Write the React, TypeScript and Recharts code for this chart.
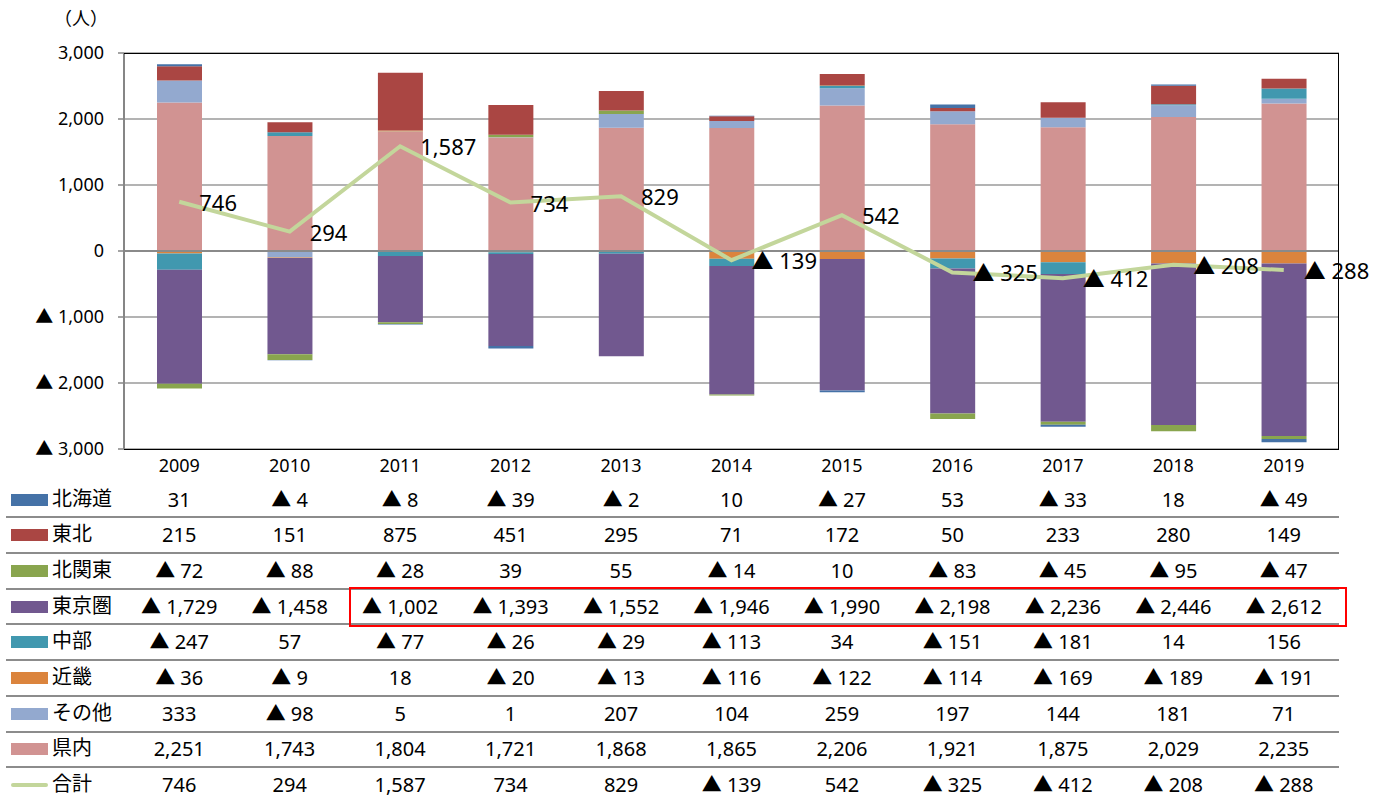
import React from 'react';
import {
  ComposedChart,
  Bar,
  Line,
  XAxis,
  YAxis,
  CartesianGrid,
  ReferenceLine,
  LabelList,
} from 'recharts';

const YEARS = ['2009', '2010', '2011', '2012', '2013', '2014', '2015', '2016', '2017', '2018', '2019'];
const HOKKAIDO = [31, -4, -8, -39, -2, 10, -27, 53, -33, 18, -49];
const TOHOKU = [215, 151, 875, 451, 295, 71, 172, 50, 233, 280, 149];
const KITAKANTO = [-72, -88, -28, 39, 55, -14, 10, -83, -45, -95, -47];
const TOKYO = [-1729, -1458, -1002, -1393, -1552, -1946, -1990, -2198, -2236, -2446, -2612];
const CHUBU = [-247, 57, -77, -26, -29, -113, 34, -151, -181, 14, 156];
const KINKI = [-36, -9, 18, -20, -13, -116, -122, -114, -169, -189, -191];
const OTHER = [333, -98, 5, 1, 207, 104, 259, 197, 144, 181, 71];
const KENNAI = [2251, 1743, 1804, 1721, 1868, 1865, 2206, 1921, 1875, 2029, 2235];
const TOTAL = [746, 294, 1587, 734, 829, -139, 542, -325, -412, -208, -288];
const Y_TICKS = [-3000, -2000, -1000, 0, 1000, 2000, 3000];

// stacking order, bottom (or nearest zero) first
const STACK = [
  { key: 'kennai', name: '県内', color: '#D19392', values: KENNAI },
  { key: 'other', name: 'その他', color: '#93A9CF', values: OTHER },
  { key: 'kinki', name: '近畿', color: '#DB843D', values: KINKI },
  { key: 'chubu', name: '中部', color: '#4198AF', values: CHUBU },
  { key: 'tokyo', name: '東京圏', color: '#71588F', values: TOKYO },
  { key: 'kitakanto', name: '北関東', color: '#89A54E', values: KITAKANTO },
  { key: 'tohoku', name: '東北', color: '#AA4643', values: TOHOKU },
  { key: 'hokkaido', name: '北海道', color: '#4572A7', values: HOKKAIDO },
];
const LINE_COLOR = '#C3D69B';

const data = YEARS.map((year, i) => {
  const row: any = { year, total: TOTAL[i] };
  STACK.forEach((s) => (row[s.key] = s.values[i]));
  return row;
});

const fmt = (v: number) =>
  v < 0 ? `▲ ${Math.abs(v).toLocaleString('en-US')}` : v.toLocaleString('en-US');

const FONT = "'Noto Sans', 'Noto Sans CJK JP', sans-serif";
const W = 1390;
const H = 798;
const PLOT_LEFT = 124;
const PLOT_RIGHT = 1339;
const PLOT_TOP = 53;
const PLOT_BOTTOM = 449;
const COL_W = (PLOT_RIGHT - PLOT_LEFT) / YEARS.length;
const ROW_Y0 = 499.5;
const ROW_H = 35.7;

const TotalLabel = (props: any) => {
  const { x, y, value } = props;
  return (
    <text x={x + 20} y={y} dominantBaseline="central" fontSize={22} fill="#000" fontFamily={FONT}>
      {fmt(value)}
    </text>
  );
};

const TABLE_ROWS = [
  ...[...STACK].reverse().map((s) => ({ name: s.name, color: s.color, values: s.values, line: false })),
  { name: '合計', color: LINE_COLOR, values: TOTAL, line: true },
];

export default function App() {
  return (
    <div
      style={{
        position: 'absolute',
        left: 0,
        top: 0,
        width: W,
        height: H,
        background: '#fff',
        fontFamily: FONT,
        color: '#000',
      }}
    >
      <div style={{ position: 'absolute', left: 54, top: 6, fontSize: 18, lineHeight: '24px' }}>（人）</div>

      <ComposedChart
        width={W}
        height={H}
        data={data}
        stackOffset="sign"
        margin={{ top: PLOT_TOP, right: W - PLOT_RIGHT, left: 0, bottom: 0 }}
      >
        <CartesianGrid vertical={false} stroke="#9a9a9a" strokeWidth={1.5} />
        <XAxis
          dataKey="year"
          height={H - PLOT_BOTTOM}
          axisLine={false}
          tickLine={false}
          tickSize={0}
          tickMargin={10}
          tick={{ fill: '#000', fontSize: 18, fontFamily: FONT }}
          interval={0}
        />
        <YAxis
          width={PLOT_LEFT}
          domain={[-3000, 3000]}
          ticks={Y_TICKS}
          interval={0}
          axisLine={{ stroke: '#868686', strokeWidth: 2 }}
          tickLine={{ stroke: '#868686', strokeWidth: 1.5 }}
          tickSize={6}
          tickMargin={14}
          tickFormatter={fmt}
          tick={{ fill: '#000', fontSize: 18, fontFamily: FONT }}
        />
        <ReferenceLine y={0} stroke="#8a8a8a" strokeWidth={2} />
        {STACK.map((s) => (
          <Bar
            key={s.key}
            dataKey={s.key}
            name={s.name}
            stackId="a"
            fill={s.color}
            barSize={45}
            isAnimationActive={false}
          />
        ))}
        <Line
          dataKey="total"
          name="合計"
          stroke={LINE_COLOR}
          strokeWidth={4}
          dot={false}
          isAnimationActive={false}
        >
          <LabelList dataKey="total" content={<TotalLabel />} />
        </Line>
      </ComposedChart>

      {/* plot frame */}
      <div
        style={{
          position: 'absolute',
          left: PLOT_LEFT,
          top: PLOT_TOP,
          width: PLOT_RIGHT - PLOT_LEFT,
          height: PLOT_BOTTOM - PLOT_TOP + 1,
          borderTop: '1.5px solid #000',
          borderRight: '1.5px solid #000',
          borderBottom: '1.5px solid #000',
          boxSizing: 'border-box',
          pointerEvents: 'none',
        }}
      />

      {/* data table */}
      {TABLE_ROWS.map((r, ri) => {
        const cy = ROW_Y0 + ri * ROW_H;
        return (
          <React.Fragment key={r.name}>
            {r.line ? (
              <div style={{ position: 'absolute', left: 11, top: cy - 2, width: 37, height: 4, background: r.color, borderRadius: 2 }} />
            ) : (
              <div style={{ position: 'absolute', left: 11, top: cy - 6, width: 37, height: 12, background: r.color }} />
            )}
            <div
              style={{
                position: 'absolute',
                left: 52,
                top: cy - 12,
                height: 20,
                lineHeight: '20px',
                fontSize: 20,
                fontFamily: "'Noto Sans CJK JP', sans-serif",
                whiteSpace: 'nowrap',
              }}
            >
              {r.name}
            </div>
            {r.values.map((v, ci) => (
              <div
                key={ci}
                style={{
                  position: 'absolute',
                  left: PLOT_LEFT + ci * COL_W,
                  width: COL_W,
                  top: cy - 11,
                  height: 22,
                  lineHeight: '22px',
                  fontSize: 20,
                  textAlign: 'center',
                  whiteSpace: 'nowrap',
                }}
              >
                {fmt(v)}
              </div>
            ))}
            {ri < TABLE_ROWS.length - 1 && (
              <div
                style={{
                  position: 'absolute',
                  left: 6,
                  top: cy + ROW_H / 2 - 1,
                  width: PLOT_RIGHT - 6,
                  height: 2,
                  background: '#8c8c8c',
                }}
              />
            )}
          </React.Fragment>
        );
      })}

      {/* highlight box around 東京圏 2011-2019 */}
      <div
        style={{
          position: 'absolute',
          left: 349,
          top: 587,
          width: 998,
          height: 40,
          border: '2.5px solid #ff0000',
          boxSizing: 'border-box',
          pointerEvents: 'none',
        }}
      />
    </div>
  );
}
